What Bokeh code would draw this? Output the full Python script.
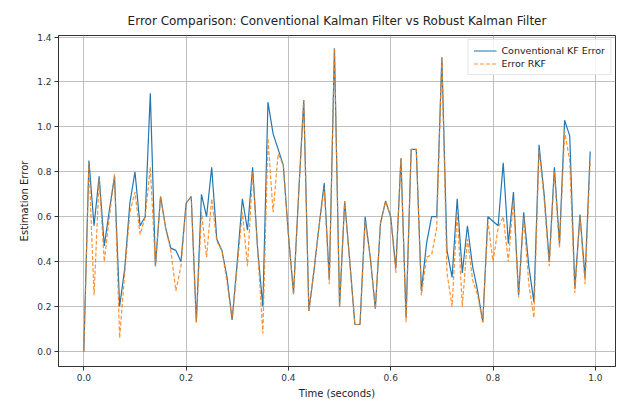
from bokeh.plotting import figure
from bokeh.models import Range1d, FixedTicker, PrintfTickFormatter, Legend, LegendItem
from bokeh.embed import file_html
from bokeh.resources import INLINE

# sample times (0.00 .. 0.99 s, step 0.01)
time_s = [round(0.01 * i, 2) for i in range(100)]

conventional_kf_error = [
    0.00, 0.85, 0.56, 0.78, 0.47, 0.63, 0.78, 0.20, 0.37, 0.66,
    0.80, 0.56, 0.60, 1.15, 0.38, 0.69, 0.55, 0.46, 0.45, 0.40,
    0.66, 0.69, 0.13, 0.70, 0.60, 0.82, 0.50, 0.45, 0.33, 0.14,
    0.40, 0.68, 0.54, 0.82, 0.45, 0.20, 1.11, 0.97, 0.90, 0.83,
    0.52, 0.26, 0.70, 1.12, 0.18, 0.36, 0.56, 0.75, 0.32, 1.35,
    0.20, 0.67, 0.40, 0.12, 0.12, 0.60, 0.42, 0.19, 0.57, 0.67,
    0.60, 0.37, 0.86, 0.15, 0.90, 0.90, 0.27, 0.48, 0.60, 0.60,
    1.31, 0.45, 0.33, 0.68, 0.35, 0.56, 0.38, 0.27, 0.13, 0.60,
    0.58, 0.56, 0.84, 0.48, 0.71, 0.25, 0.62, 0.38, 0.22, 0.92,
    0.70, 0.40, 0.82, 0.48, 1.03, 0.96, 0.28, 0.61, 0.33, 0.89,
]

robust_kf_error = [
    0.00, 0.84, 0.25, 0.77, 0.40, 0.60, 0.79, 0.06, 0.35, 0.62,
    0.71, 0.52, 0.60, 0.82, 0.38, 0.69, 0.55, 0.45, 0.27, 0.38,
    0.66, 0.69, 0.13, 0.62, 0.42, 0.68, 0.49, 0.45, 0.31, 0.14,
    0.38, 0.62, 0.38, 0.80, 0.45, 0.08, 0.95, 0.62, 0.88, 0.83,
    0.52, 0.25, 0.70, 1.12, 0.18, 0.36, 0.56, 0.73, 0.30, 1.35,
    0.20, 0.67, 0.40, 0.12, 0.12, 0.58, 0.42, 0.19, 0.57, 0.67,
    0.60, 0.35, 0.86, 0.13, 0.90, 0.90, 0.25, 0.42, 0.43, 0.55,
    1.31, 0.35, 0.20, 0.62, 0.20, 0.50, 0.32, 0.25, 0.13, 0.58,
    0.40, 0.55, 0.60, 0.40, 0.68, 0.24, 0.60, 0.30, 0.15, 0.90,
    0.68, 0.38, 0.80, 0.46, 0.98, 0.85, 0.26, 0.60, 0.30, 0.85,
]

y_ticks = [0.0, 0.2, 0.4, 0.6, 0.8, 1.0, 1.2, 1.4]
x_ticks = [0.0, 0.2, 0.4, 0.6, 0.8, 1.0]

FONT = "DejaVu Sans"

p = figure(
    width=623, height=401,
    output_backend="svg", toolbar_location=None,
    x_range=Range1d(-0.0495, 1.0395),
    y_range=Range1d(-0.067, 1.407),
    min_border_left=58, min_border_right=8,
    min_border_top=35, min_border_bottom=35,
    title="Error Comparison: Conventional Kalman Filter vs Robust Kalman Filter",
)

p.title.align = "center"
p.title.text_font = FONT
p.title.text_font_size = "12px"
p.title.text_font_style = "normal"
p.title.text_color = "#222222"
p.title.standoff = 15

r1 = p.line(time_s, conventional_kf_error, line_color="#1f77b4", line_width=1.2)
r2 = p.line(time_s, robust_kf_error, line_color="#ff7f0e", line_width=1.2,
            line_dash="4 2", line_alpha=0.85)

for ax in (p.xaxis[0], p.yaxis[0]):
    ax.major_label_text_font = FONT
    ax.major_label_text_font_size = "9px"
    ax.major_label_text_color = "#333333"
    ax.axis_label_text_font = FONT
    ax.axis_label_text_font_size = "10px"
    ax.axis_label_text_font_style = "normal"
    ax.axis_label_text_color = "#222222"
    ax.minor_tick_line_color = None
    ax.major_tick_in = 0
    ax.major_tick_out = 4
    ax.major_tick_line_color = "#333333"
    ax.axis_line_color = "#333333"
    ax.major_label_standoff = 3
    ax.axis_label_standoff = 4
    ax.formatter = PrintfTickFormatter(format="%.1f")

p.xaxis[0].ticker = FixedTicker(ticks=x_ticks)
p.yaxis[0].ticker = FixedTicker(ticks=y_ticks)
p.xaxis.axis_label = "Time (seconds)"
p.yaxis.axis_label = "Estimation Error"

p.xgrid.ticker = FixedTicker(ticks=x_ticks)
p.ygrid.ticker = FixedTicker(ticks=y_ticks)
p.grid.grid_line_color = "#b0b0b0"
p.grid.grid_line_width = 0.8

p.outline_line_color = "#333333"
p.outline_line_width = 1
p.background_fill_color = "white"
p.border_fill_color = "white"

legend = Legend(items=[
    LegendItem(label="Conventional KF Error", renderers=[r1]),
    LegendItem(label="Error RKF", renderers=[r2]),
], location="top_right")
legend.label_text_font = FONT
legend.label_text_font_size = "9.5px"
legend.label_text_color = "#222222"
legend.glyph_width = 23
legend.glyph_height = 11
legend.label_height = 11
legend.spacing = 2
legend.padding = 5
legend.margin = 4
legend.border_line_color = "#cccccc"
legend.background_fill_alpha = 0.85
p.add_layout(legend)

open("out.html", "w").write(file_html(p, INLINE))
